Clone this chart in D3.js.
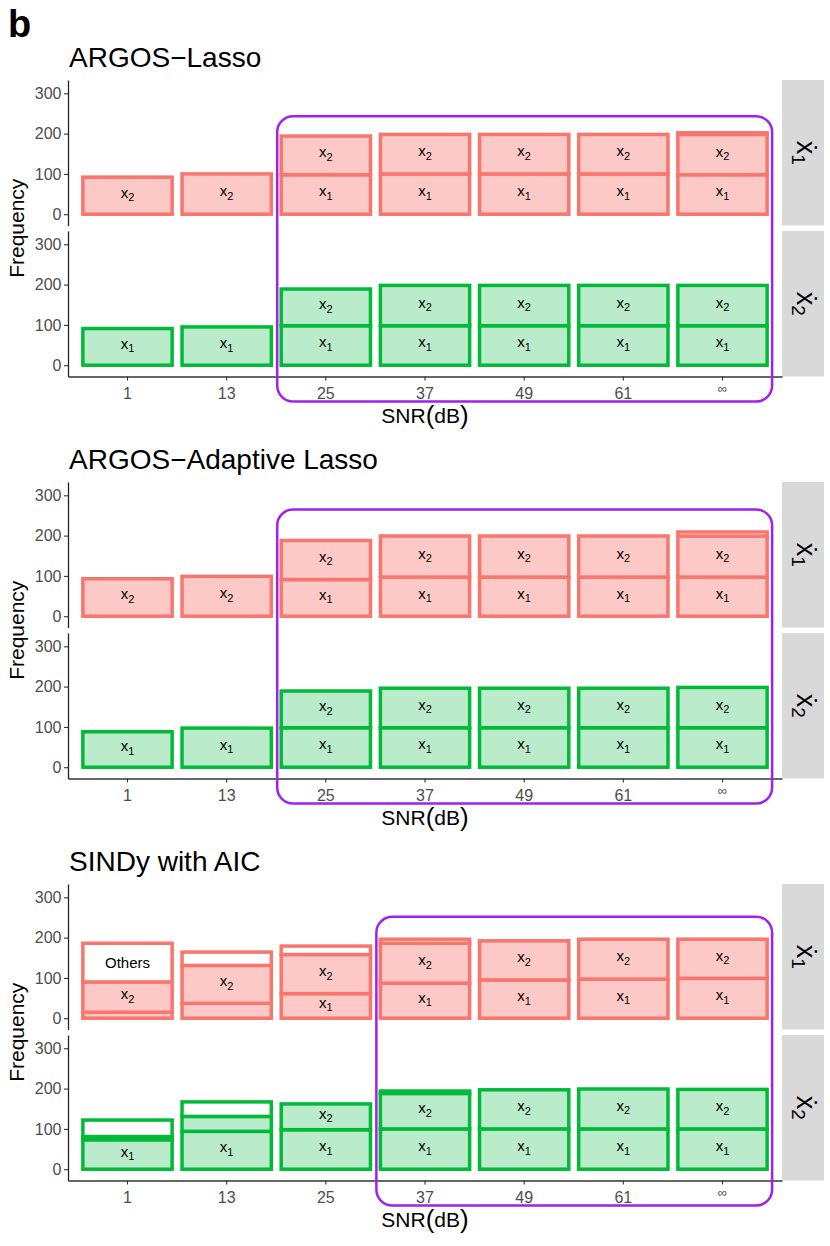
<!DOCTYPE html>
<html>
<head>
<meta charset="utf-8">
<script src="https://cdn.jsdelivr.net/npm/d3@7"></script>
<style>
  body { margin: 0; background: #fff; }
  text { font-family: "Liberation Sans", Arial, Helvetica, sans-serif; }
</style>
</head>
<body>
<div class="chart"></div>
<script>
// ---- data ----
var snr = ["1", "13", "25", "37", "49", "61", "\u221E"];
var methods = ["ARGOS\u2212Lasso", "ARGOS\u2212Adaptive Lasso", "SINDy with AIC"];
var responses = ["1", "2"];           // facets: x1 dot, x2 dot
var keys = ["x1", "x2", "Others"];
var yTicks = [0, 100, 200, 300];

// ARGOS-Lasso
var lassoDx1X1 = [0, 0, 98, 100, 100, 100, 98];
var lassoDx1X2 = [92, 100, 96, 98, 98, 98, 100];
var lassoDx1Oth = [0, 0, 0, 0, 0, 0, 4];
var lassoDx2X1 = [91, 95, 98, 98, 98, 98, 98];
var lassoDx2X2 = [0, 0, 91, 100, 100, 100, 100];
var lassoDx2Oth = [0, 0, 0, 0, 0, 0, 0];

// ARGOS-Adaptive Lasso
var adaDx1X1 = [0, 0, 91, 97, 97, 97, 97];
var adaDx1X2 = [93, 99, 97, 102, 102, 102, 102];
var adaDx1Oth = [0, 0, 0, 0, 0, 0, 10];
var adaDx2X1 = [88, 97, 98, 98, 98, 98, 98];
var adaDx2X2 = [0, 0, 91, 98, 98, 98, 100];
var adaDx2Oth = [0, 0, 0, 0, 0, 0, 0];

// SINDy with AIC
var sindyDx1X1 = [15, 37, 61, 87, 95, 97, 99];
var sindyDx1X2 = [75, 94, 97, 99, 97, 99, 97];
var sindyDx1Oth = [96, 33, 21, 10, 0, 0, 0];
var sindyDx2X1 = [73, 94, 98, 100, 100, 100, 100];
var sindyDx2X2 = [8, 37, 64, 88, 97, 99, 98];
var sindyDx2Oth = [41, 36, 0, 6, 0, 0, 0];

// highlighted SNR range (first category, top of box in frequency units)
var hlStart = ["25", "25", "37"];
var hlTop = [243, 265, 252];

var panels = [
  [[lassoDx1X1, lassoDx1X2, lassoDx1Oth], [lassoDx2X1, lassoDx2X2, lassoDx2Oth]],
  [[adaDx1X1, adaDx1X2, adaDx1Oth], [adaDx2X1, adaDx2X2, adaDx2Oth]],
  [[sindyDx1X1, sindyDx1X2, sindyDx1Oth], [sindyDx2X1, sindyDx2X2, sindyDx2Oth]]
];

// ---- layout ----
var w = 830, h = 1246,
    left = 68, right = 782,
    top0 = 80, step = 402,
    facetH = 145.5, facetGap = 5.5,
    stripW = 42;

var strokeCol = ["#F8766D", "#00BA38"],
    fillCol = ["#FCC9C6", "#BAEBCA"];

var svg = d3.select(".chart")
  .append("svg")
  .attr("width", w)
  .attr("height", h);

svg.append("text")
  .attr("x", 8)
  .attr("y", 37)
  .attr("font-size", 38)
  .attr("font-weight", "bold")
  .text("b");

var x = d3.scaleBand()
  .domain(snr)
  .range([left, right])
  .paddingInner(0.1)
  .paddingOuter(0.15);

function subLabel(sel, base, sub, size, subSize, shift) {
  sel.append("tspan").attr("font-size", size).text(base);
  sel.append("tspan").attr("font-size", subSize).attr("dy", shift).text(sub);
}

panels.forEach(function (facets, p) {
  var ptop = top0 + p * step;
  var axisY = ptop + 2 * facetH + facetGap;
  var g = svg.append("g");

  g.append("text")
    .attr("x", 69)
    .attr("y", ptop - 13)
    .attr("font-size", 28)
    .text(methods[p]);

  var yScales = [];

  facets.forEach(function (arrs, f) {
    var fTop = ptop + f * (facetH + facetGap),
        fBot = fTop + facetH;

    var y = d3.scaleLinear().domain([-28, 333]).range([fBot, fTop]);
    yScales.push(y);

    var rows = snr.map(function (s, i) {
      return { snr: s, x1: arrs[0][i], x2: arrs[1][i], Others: arrs[2][i] };
    });
    var layers = d3.stack().keys(keys)(rows);

    layers.forEach(function (layer) {
      var key = layer.key;
      var segs = layer.filter(function (d) { return d[1] - d[0] > 0; });

      g.selectAll(null)
        .data(segs)
        .enter()
        .append("rect")
        .attr("x", d => x(d.data.snr))
        .attr("width", x.bandwidth())
        .attr("y", d => y(d[1]))
        .attr("height", d => y(d[0]) - y(d[1]))
        .attr("fill", key === "Others" ? "#fff" : fillCol[f])
        .attr("stroke", strokeCol[f])
        .attr("stroke-width", 3.5);

      var lab = g.selectAll(null)
        .data(segs.filter(d => d[1] - d[0] >= 50))
        .enter()
        .append("text")
        .attr("x", d => x(d.data.snr) + x.bandwidth() / 2)
        .attr("y", d => y((d[0] + d[1]) / 2) + 2)
        .attr("text-anchor", "middle")
        .attr("fill", "#000");

      if (key === "Others") {
        lab.attr("font-size", 15).attr("y", d => y((d[0] + d[1]) / 2) + 5).text("Others");
      } else {
        lab.each(function () {
          subLabel(d3.select(this), "x", key.slice(1), 15, 11, 3.5);
        });
      }
    });

    // y axis
    var yAxis = d3.axisLeft(y).tickValues(yTicks).tickSize(4).tickSizeOuter(0).tickPadding(2.5);
    var ya = g.append("g")
      .attr("transform", "translate(" + left + ",0)")
      .call(yAxis);
    ya.select(".domain").attr("stroke", "#222").attr("stroke-width", 1.3);
    ya.selectAll(".tick line").attr("stroke", "#333").attr("stroke-width", 1.1);
    ya.selectAll(".tick text")
      .attr("font-size", 16)
      .attr("fill", "#4D4D4D")
      .attr("font-family", "Liberation Sans, Arial, sans-serif");

    // strip
    g.append("rect")
      .attr("x", right)
      .attr("y", fTop)
      .attr("width", stripW)
      .attr("height", facetH)
      .attr("fill", "#D9D9D9");

    var st = g.append("text")
      .attr("transform", "translate(" + (right + 15) + "," + (fTop + facetH / 2) + ") rotate(90)")
      .attr("text-anchor", "middle");
    subLabel(st, "\u1E8B", responses[f], 27, 19, 5);
  });

  // x axis
  var xAxis = d3.axisBottom(x).tickSize(4).tickSizeOuter(0).tickPadding(7);
  var xa = g.append("g")
    .attr("transform", "translate(0," + axisY + ")")
    .call(xAxis);
  xa.select(".domain").attr("stroke", "#333").attr("stroke-width", 1.3);
  xa.selectAll(".tick line").attr("stroke", "#333").attr("stroke-width", 1.1);
  xa.selectAll(".tick text")
    .attr("font-size", 16)
    .attr("fill", "#4D4D4D")
    .attr("font-family", "Liberation Sans, Arial, sans-serif");
  xa.selectAll(".tick text")
    .filter(d => d === "\u221E")
    .attr("font-size", 13)
    .attr("dy", "0.4em");

  // axis titles
  var xt = g.append("text")
    .attr("x", (left + right) / 2)
    .attr("y", axisY + 46)
    .attr("text-anchor", "middle")
    .attr("font-size", 21);
  xt.append("tspan").text("SNR");
  xt.append("tspan").attr("font-size", 26).attr("dy", 1.5).text("(");
  xt.append("tspan").attr("font-size", 21).attr("dy", -1.5).text("dB");
  xt.append("tspan").attr("font-size", 26).attr("dy", 1.5).text(")");

  g.append("text")
    .attr("transform", "translate(24," + (ptop + facetH + facetGap / 2) + ") rotate(-90)")
    .attr("text-anchor", "middle")
    .attr("font-size", 21)
    .text("Frequency");

  // highlight box
  var bx0 = x(hlStart[p]) - 4,
      bx1 = x(snr[snr.length - 1]) + x.bandwidth() + 5,
      by0 = yScales[0](hlTop[p]),
      by1 = axisY + 25;
  g.append("rect")
    .attr("x", bx0)
    .attr("y", by0)
    .attr("width", bx1 - bx0)
    .attr("height", by1 - by0)
    .attr("rx", 16)
    .attr("fill", "none")
    .attr("stroke", "#A020F0")
    .attr("stroke-width", 2.5);
});
</script>
</body>
</html>
